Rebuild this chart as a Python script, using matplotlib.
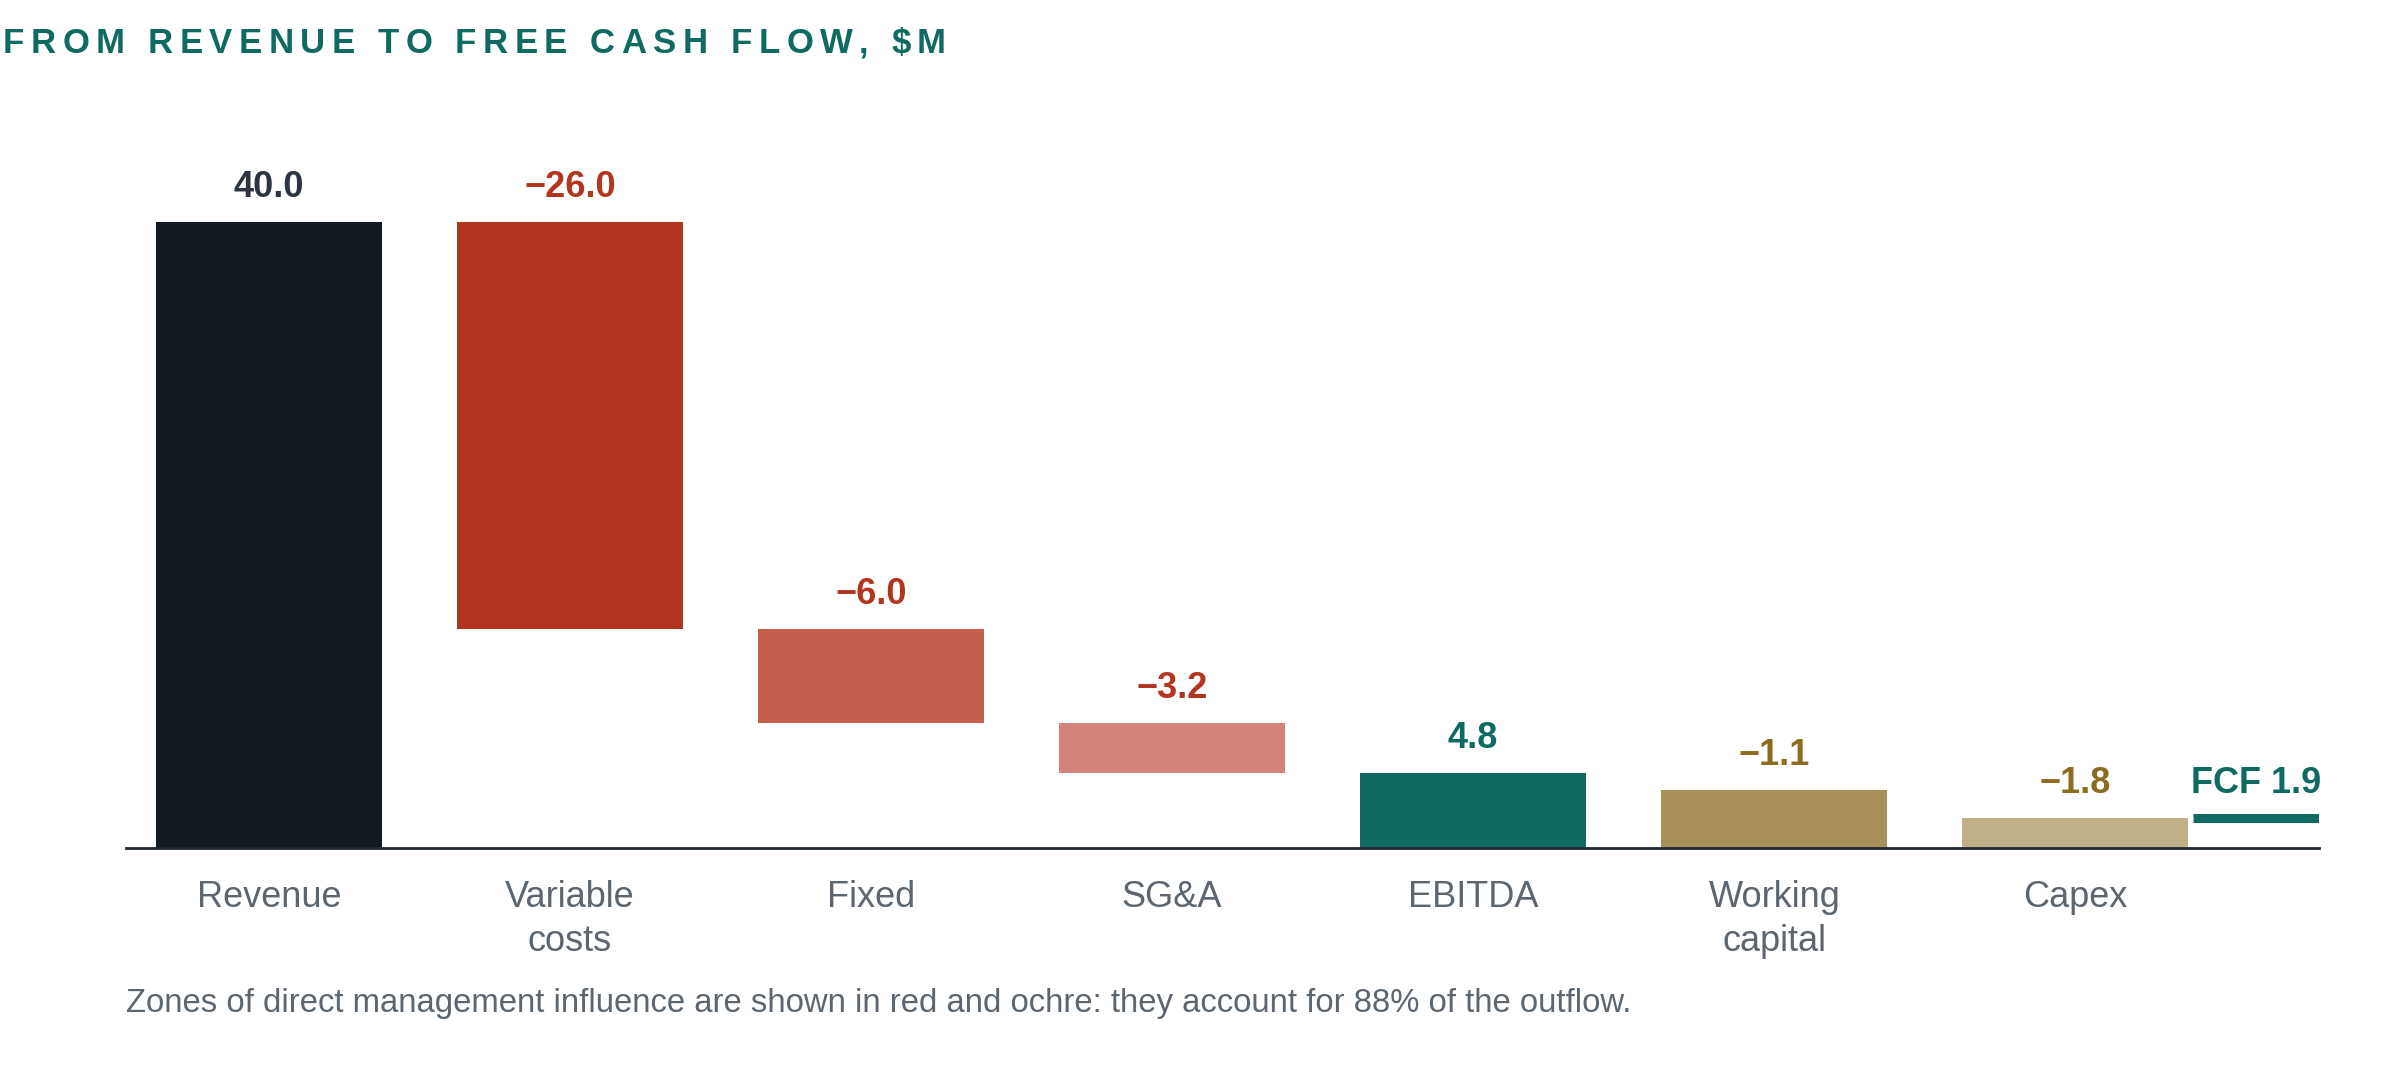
import matplotlib
matplotlib.use("Agg")
import matplotlib.pyplot as plt

plt.rcParams["font.family"] = ["Liberation Sans", "DejaVu Sans"]

categories = ["Revenue", "Variable\ncosts", "Fixed", "SG&A", "EBITDA", "Working\ncapital", "Capex"]
deltas = [40.0, -26.0, -6.0, -3.2, 4.8, -1.1, -1.8]
labels = ["40.0", "\u221226.0", "\u22126.0", "\u22123.2", "4.8", "\u22121.1", "\u22121.8"]
fcf = 1.9

bar_colors = ["#131a22", "#b3351f", "#c25e4c", "#d4837a", "#0f6b61", "#a89158", "#bfaf86"]
label_colors = ["#2b3440", "#b3351f", "#b3351f", "#b3351f", "#0f6b61", "#8c6d1f", "#8c6d1f"]
teal = "#0f6b61"
gray = "#5b6670"

# bar extents: cost items float under the running total,
# EBITDA and the cash items after it stand on the baseline at their level
bottoms, tops = [], []
level = 0.0
for i, d in enumerate(deltas):
    if i == 0:
        bottoms.append(0.0); tops.append(d); level = d
    elif i == 4:
        bottoms.append(0.0); tops.append(d); level = d
    elif i < 4:
        bottoms.append(level + d); tops.append(level); level += d
    else:
        level += d
        bottoms.append(0.0); tops.append(level)

fig = plt.figure(figsize=(23.82, 10.68), dpi=100)
ax = fig.add_axes([0.0529, 0.206, 0.9207, 0.6448])

x = list(range(len(categories)))
heights = [t - b for t, b in zip(tops, bottoms)]
ax.bar(x, heights, bottom=bottoms, width=0.75, color=bar_colors)

for xi, t, lab, c in zip(x, tops, labels, label_colors):
    ax.annotate(lab, (xi, t), xytext=(0, 18), textcoords="offset points",
                ha="center", va="baseline", fontsize=26, fontweight="bold", color=c)

ax.hlines(fcf, 6.39, 6.81, color=teal, linewidth=6.5)
ax.annotate(f"FCF {fcf}", (6.6, fcf), xytext=(0, 18), textcoords="offset points",
            ha="center", va="baseline", fontsize=26, fontweight="bold", color=teal)

ax.set_xlim(-0.475, 6.81)
ax.set_ylim(0, 44)
ax.set_yticks([])
ax.set_xticks(x)
ax.set_xticklabels(categories, fontsize=26, color=gray, linespacing=1.33)
ax.tick_params(axis="x", length=0, pad=23)
for s in ["top", "right", "left"]:
    ax.spines[s].set_visible(False)
ax.spines["bottom"].set_color("#1f2630")
ax.spines["bottom"].set_linewidth(2)

# letter-spaced title
fig.canvas.draw()
renderer = fig.canvas.get_renderer()
title = "FROM REVENUE TO FREE CASH FLOW, $M"
px = 3.0
for ch in title:
    t = fig.text(px / 2382, 1 - 53 / 1068, ch, fontsize=25, fontweight="bold",
                 color=teal, va="baseline", ha="left")
    if ch == " ":
        w = 25 * 100 / 72 * 0.278
    else:
        w = t.get_window_extent(renderer).width
    px += w + 6.5

fig.text(0.0529, 1 - 1012 / 1068,
         "Zones of direct management influence are shown in red and ochre: they account for 88% of the outflow.",
         fontsize=23.7, color=gray, va="baseline", ha="left")

fig.savefig("out.png", dpi=100, facecolor="white")
